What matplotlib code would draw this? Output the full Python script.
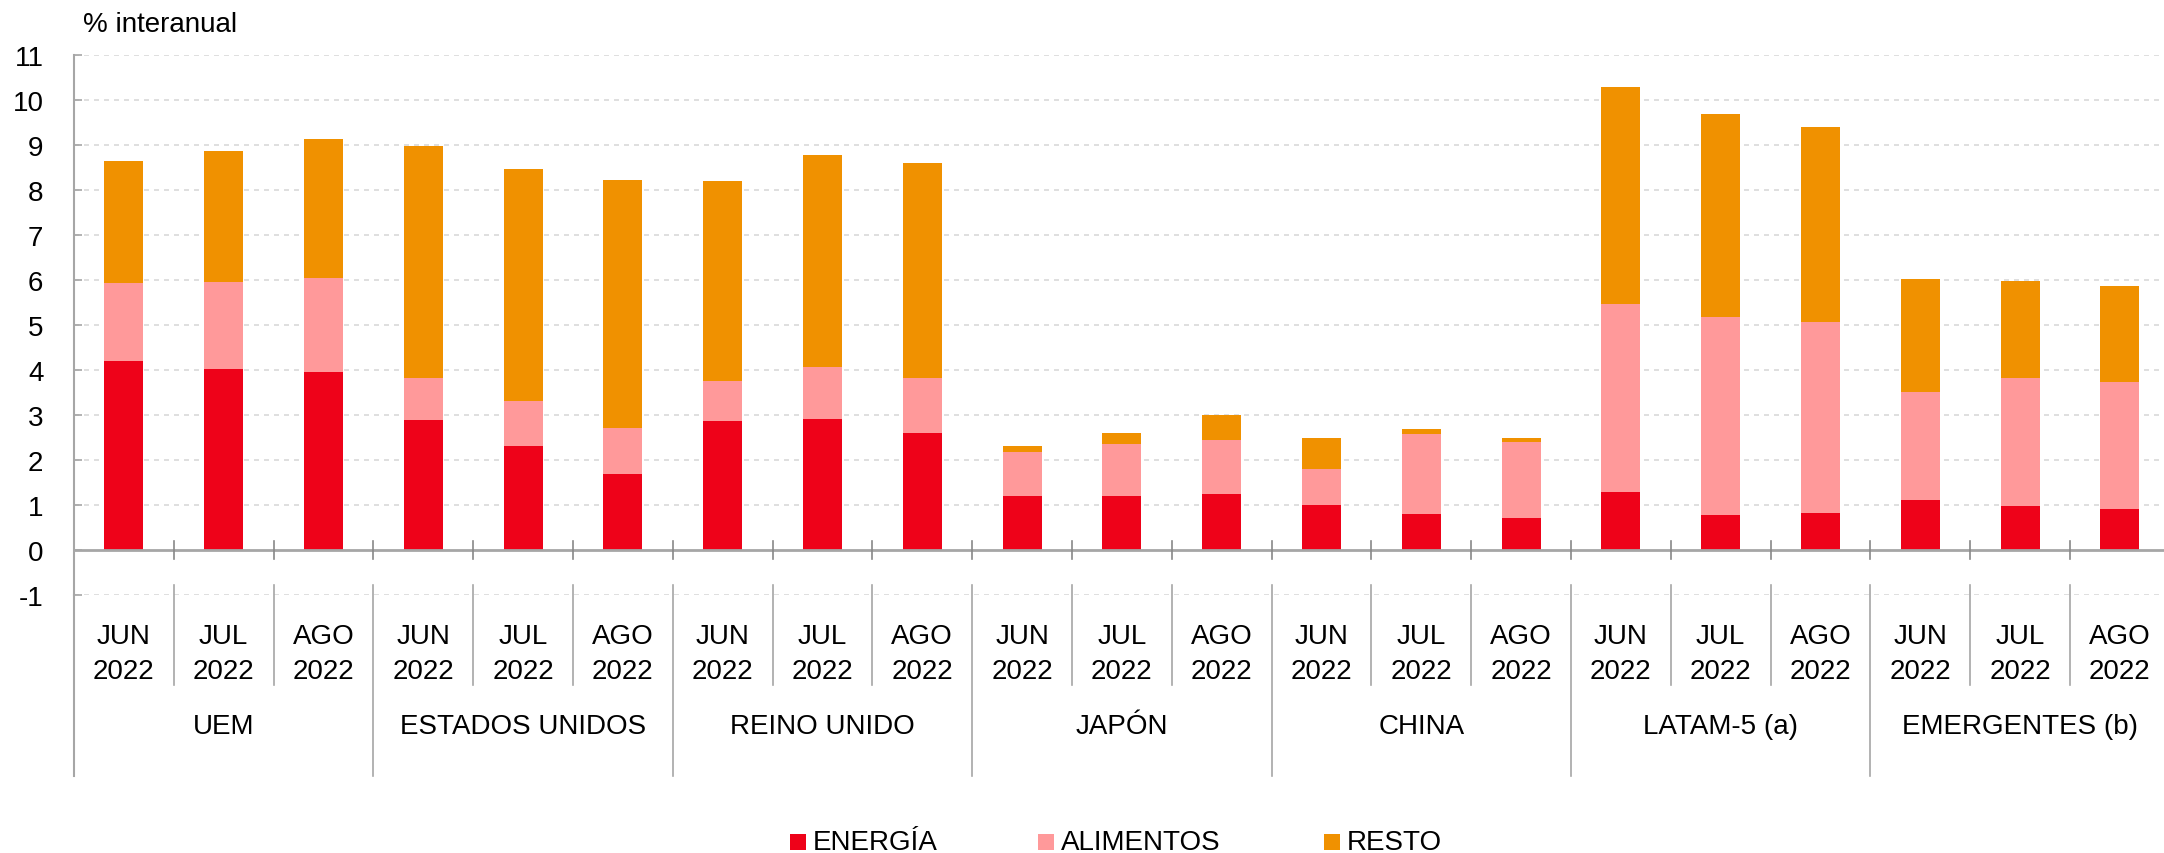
import matplotlib
matplotlib.use("Agg")
import matplotlib.pyplot as plt
import matplotlib.transforms as mtransforms
from matplotlib.patches import Rectangle
from matplotlib.lines import Line2D
import numpy as np

plt.rcParams['font.family'] = ['Liberation Sans', 'DejaVu Sans']

groups = ["UEM", "ESTADOS UNIDOS", "REINO UNIDO", "JAPÓN", "CHINA", "LATAM-5 (a)", "EMERGENTES (b)"]
months = ["JUN\n2022", "JUL\n2022", "AGO\n2022"]

# cumulative tops
energia = [4.19, 4.03, 3.96, 2.90, 2.32, 1.69, 2.86, 2.91, 2.61,
           1.19, 1.19, 1.24, 0.99, 0.80, 0.71, 1.29, 0.78, 0.83, 1.11, 0.97, 0.91]
alim_top = [5.94, 5.96, 6.04, 3.83, 3.31, 2.71, 3.76, 4.07, 3.83,
            2.18, 2.36, 2.45, 1.80, 2.58, 2.41, 5.47, 5.18, 5.07, 3.51, 3.83, 3.74]
total = [8.65, 8.87, 9.14, 8.97, 8.46, 8.22, 8.19, 8.77, 8.60,
         2.31, 2.61, 3.01, 2.50, 2.69, 2.49, 10.29, 9.68, 9.39, 6.02, 5.97, 5.86]

energia = np.array(energia)
alimentos = np.array(alim_top) - energia
resto = np.array(total) - np.array(alim_top)

series_names = ["ENERGÍA", "ALIMENTOS", "RESTO"]
colors = ["#EE0219", "#FF999A", "#F09100"]

FS = 20
W, H = 2164, 854
fig = plt.figure(figsize=(W / 100, H / 100), dpi=100)

ax_left, ax_right = 74, 74 + 21 * 99.8
ax_top, ax_bot = 56, 596
ax = fig.add_axes([ax_left / W, 1 - ax_bot / H, (ax_right - ax_left) / W, (ax_bot - ax_top) / H])

n = len(energia)
x = np.arange(n) + 0.5
bw = 0.39
ax.bar(x, energia, bw, color=colors[0], zorder=3, linewidth=0)
ax.bar(x, alimentos, bw, bottom=energia, color=colors[1], zorder=3, linewidth=0)
ax.bar(x, resto, bw, bottom=energia + alimentos, color=colors[2], zorder=3, linewidth=0)

ax.set_xlim(0, n)
ax.set_ylim(-1, 11)
ax.set_yticks(range(-1, 12))
ax.set_yticklabels([str(v) for v in range(-1, 12)])
grid_c = "#d9d9d9"
axis_c = "#a6a6a6"
for v in range(-1, 12):
    if v == 0:
        continue
    ax.axhline(v, color=grid_c, lw=1.2, ls=(0, (3, 3)), zorder=1)
ax.axhline(0, color=axis_c, lw=2, zorder=4)

for s in ["top", "right", "bottom"]:
    ax.spines[s].set_visible(False)
ax.spines["left"].set_color(axis_c)
ax.spines["left"].set_linewidth(1.5)
ax.tick_params(axis="y", direction="in", length=5.8, width=1.2, color=axis_c,
               labelsize=FS, pad=22)
ax.set_xticks([])
for lab in ax.get_yticklabels():
    lab.set_horizontalalignment("right")

trans = mtransforms.blended_transform_factory(ax.transData, ax.transAxes)
def ypx(p):
    return (ax_bot - p) / (ax_bot - ax_top)

# left axis extension down to bottom of group labels
ax.add_line(Line2D([0, 0], [ypx(596), ypx(777)], transform=trans, color=axis_c, lw=1.5, clip_on=False))

# separators
for b in range(1, n + 1):
    is_group = (b % 3 == 0)
    ax.plot([b, b], [-0.2, 0.2], color="#888888", lw=1.2, zorder=5, clip_on=False)
    ax.add_line(Line2D([b, b], [ypx(586), ypx(777 if is_group else 686)], transform=trans,
                       color=axis_c, lw=1.2, clip_on=False))

# month labels
for i in range(n):
    m = months[i % 3].split("\n")
    ax.text(x[i], ypx(644), m[0], transform=trans, ha="center", va="baseline", fontsize=FS)
    ax.text(x[i], ypx(679), m[1], transform=trans, ha="center", va="baseline", fontsize=FS)

for g, name in enumerate(groups):
    ax.text(g * 3 + 1.5, ypx(734), name, transform=trans, ha="center", va="baseline", fontsize=FS)

# unit label
fig.text(83 / W, 1 - 32 / H, "% interanual", ha="left", va="baseline", fontsize=FS)

# legend
leg_x = [790, 1038, 1324]
for lx, name, c in zip(leg_x, series_names, colors):
    fig.patches.append(Rectangle((lx / W, 1 - 851 / H), 16 / W, 16 / H, transform=fig.transFigure,
                                 facecolor=c, edgecolor="none"))
    fig.text((lx + 23) / W, 1 - 850 / H, name, ha="left", va="baseline", fontsize=FS)

fig.savefig("out.png", dpi=100)
